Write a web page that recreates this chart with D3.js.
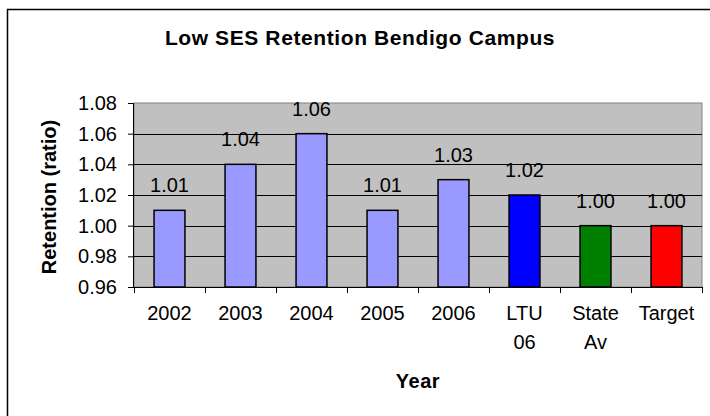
<!DOCTYPE html>
<html><head><meta charset="utf-8">
<script src="https://cdn.jsdelivr.net/npm/d3@7/dist/d3.min.js"></script>
<style>body{margin:0;background:#fff}svg{display:block}text{font-family:"Liberation Sans",Arial,sans-serif;fill:#000}</style>
</head><body><svg id="c" width="710" height="416"></svg>
<script>
const categories = ["2002","2003","2004","2005","2006","LTU 06","State Av","Target"];
const categoryLines = [["2002"],["2003"],["2004"],["2005"],["2006"],["LTU","06"],["State","Av"],["Target"]];
const values = [1.01, 1.04, 1.06, 1.01, 1.03, 1.02, 1.00, 1.00];
const barColors = ["#9999ff","#9999ff","#9999ff","#9999ff","#9999ff","#0000ff","#008000","#ff0000"];
const yTicks = [0.96, 0.98, 1.00, 1.02, 1.04, 1.06, 1.08];
const title = "Low SES Retention Bendigo Campus";
const xTitle = "Year";
const yTitle = "Retention (ratio)";

const svg = d3.select("#c");
const L = 134, R = 702, T = 103, B = 287;

svg.append("rect").attr("x",7.5).attr("y",9.5).attr("width",730).attr("height",430)
  .attr("fill","#fff").attr("stroke","#000").attr("stroke-width",1.5);

const x = d3.scaleBand().domain(categories).range([L,R]).padding(0);
const y = d3.scaleLinear().domain([0.96,1.08]).range([B,T]);

svg.append("rect").attr("x",L).attr("y",T).attr("width",R-L).attr("height",B-T)
  .attr("fill","#c0c0c0").attr("stroke","#808080").attr("stroke-width",1);

// gridlines
svg.append("g").selectAll("line").data(yTicks.filter(v=>v>0.96 && v<1.08)).join("line")
  .attr("x1",L).attr("x2",R).attr("y1",d=>Math.round(y(d))+0.5).attr("y2",d=>Math.round(y(d))+0.5)
  .attr("stroke","#000").attr("stroke-width",1);

// bars
const bw = x.bandwidth()*0.435;
svg.append("g").selectAll("rect").data(values).join("rect")
  .attr("x",(d,i)=>x(categories[i])+x.bandwidth()/2-bw/2)
  .attr("y",d=>y(d))
  .attr("width",bw)
  .attr("height",d=>B-y(d))
  .attr("fill",(d,i)=>barColors[i]).attr("stroke","#000").attr("stroke-width",1.5);

// data labels
svg.append("g").selectAll("text").data(values).join("text")
  .attr("x",(d,i)=>x(categories[i])+x.bandwidth()/2)
  .attr("y",d=>y(d)-18)
  .attr("text-anchor","middle").attr("font-size",20)
  .text(d=>d.toFixed(2));

// y axis
const yAxis = d3.axisLeft(y).tickValues(yTicks).tickFormat(d3.format(".2f")).tickSize(6).tickPadding(11);
const gy = svg.append("g").attr("transform",`translate(${L},0)`).call(yAxis);
gy.select(".domain").attr("stroke","#000").attr("d",`M-0.5,${T}V${B}`);
gy.selectAll(".tick line").attr("stroke","#000");
gy.selectAll(".tick text").attr("font-size",20).attr("font-family","Liberation Sans, Arial, sans-serif").attr("fill","#000");

// x axis
const xAxis = d3.axisBottom(x).tickSize(0).tickFormat("");
const gx = svg.append("g").attr("transform",`translate(0,${B})`).call(xAxis);
gx.select(".domain").attr("stroke","#000").attr("d",`M${L},0.5H${R}`);
gx.selectAll(".tick").remove();
gx.selectAll("line.sep").data(d3.range(categories.length+1)).join("line").attr("class","sep")
  .attr("x1",i=>Math.round(L+i*x.step())+0.5).attr("x2",i=>Math.round(L+i*x.step())+0.5)
  .attr("y1",0).attr("y2",6).attr("stroke","#000");
const lab = gx.selectAll("text.cat").data(categories).join("text").attr("class","cat")
  .attr("x",d=>x(d)+x.bandwidth()/2).attr("y",33)
  .attr("text-anchor","middle").attr("font-size",20);
lab.each(function(d,i){
  const t = d3.select(this);
  categoryLines[i].forEach((s,j)=>{
    t.append("tspan").attr("x",x(d)+x.bandwidth()/2).attr("dy",j===0?0:29).text(s);
  });
});

// titles
svg.append("text").attr("x",360).attr("y",45).attr("text-anchor","middle")
  .attr("font-size",21).attr("font-weight","bold").attr("letter-spacing",0.6).text(title);
svg.append("text").attr("x",(L+R)/2).attr("y",388).attr("text-anchor","middle")
  .attr("font-size",20).attr("font-weight","bold").attr("letter-spacing",0.5).text(xTitle);
svg.append("text").attr("transform",`translate(56,${(T+B)/2+2}) rotate(-90)`).attr("text-anchor","middle")
  .attr("font-size",20).attr("font-weight","bold").text(yTitle);
</script></body></html>
